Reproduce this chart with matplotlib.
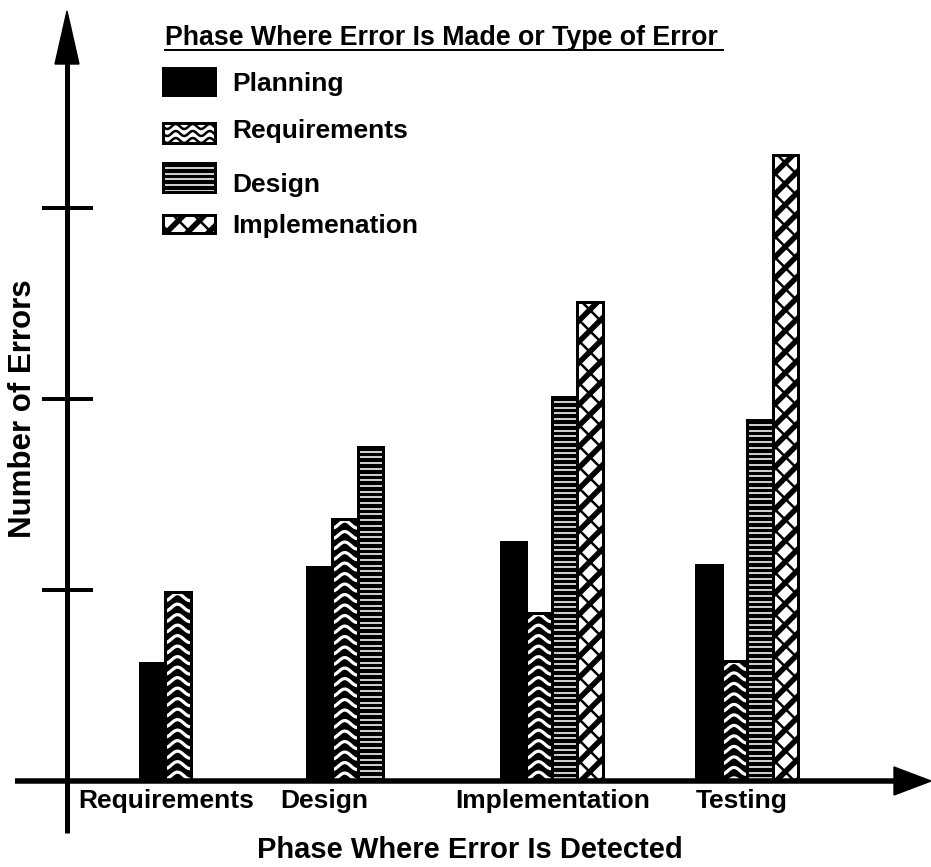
import numpy as np
import matplotlib
matplotlib.use("Agg")
import matplotlib.pyplot as plt
from matplotlib.patches import Rectangle, Polygon
from matplotlib.collections import LineCollection

plt.rcParams['font.family'] = ['Liberation Sans', 'DejaVu Sans']

# ---------------- data ----------------
phases = ['Requirements', 'Design', 'Implementation', 'Testing']
series_names = ['Planning', 'Requirements', 'Design', 'Implemenation']
planning = [0.62, 1.12, 1.25, 1.13]
requirements = [0.99, 1.37, 0.88, 0.63]
design = [None, 1.75, 2.01, 1.89]
implementation = [None, None, 2.51, 3.28]
y_ticks = [1, 2, 3]
legend_title = 'Phase Where Error Is Made or Type of Error'
x_title = 'Phase Where Error Is Detected'
y_title = 'Number of Errors'

# ---------------- layout (pixels) ----------------
W, H = 931, 867
BASE = 781          # pixel row of the zero line
UNIT = 191          # pixels per y unit
AXIS_X = 67
group_centers = [165, 345, 551.5, 747]
label_x = [166.5, 324, 553, 742]
BAR_W = 25.5
PX = 0.72           # points per pixel at dpi 100

fig = plt.figure(figsize=(W / 100, H / 100), dpi=100)
ax = fig.add_axes([0, 0, 1, 1])
ax.set_xlim(0, W)
ax.set_ylim(-(H - BASE) / UNIT, BASE / UNIT)
ax.set_autoscale_on(False)
ov = fig.add_axes([0, 0, 1, 1], zorder=5)
ov.set_xlim(0, W)
ov.set_ylim(H, 0)
ov.axis('off')
ov.patch.set_alpha(0)

for s in ['top', 'right']:
    ax.spines[s].set_visible(False)
ax.spines['left'].set_position(('data', AXIS_X))
ax.spines['left'].set_color('none')
ax.spines['bottom'].set_position(('data', 0))
ax.spines['bottom'].set_color('none')
ax.set_yticks(y_ticks)
ax.tick_params(axis='y', direction='inout', length=51 * PX, width=4 * PX,
               labelleft=False, color='black')
ax.set_xticks(label_x, phases)
ax.tick_params(axis='x', length=0, pad=6, labelsize=19)
for t in ax.get_xticklabels():
    t.set_fontweight('bold')


def to_px(rect):
    x0, y0 = rect.get_x(), rect.get_y()
    x1, y1 = x0 + rect.get_width(), y0 + rect.get_height()
    d = ax.transData.transform([[x0, y0], [x1, y1]])
    p = ov.transData.inverted().transform(d)
    return p[0, 0], p[1, 0], min(p[0, 1], p[1, 1]), max(p[0, 1], p[1, 1])


def add_lines(target_ax, segs, color, lw, clip):
    lc = LineCollection(segs, colors=color, linewidths=lw * PX,
                        transform=ov.transData, zorder=2, capstyle='butt')
    target_ax.add_collection(lc, autolim=False)
    lc.set_clip_path(clip)


def wave(target_ax, box, clip, color, spacing, amp, wl, lw, phase=0):
    x0, x1, yt, yb = box
    segs = []
    xs = np.linspace(x0 - 2, x1 + 2, 60)
    for yc in np.arange(yt + spacing * 0.5, yb + amp + spacing, spacing):
        ys = yc + amp * np.sin(2 * np.pi * (xs - x0) / wl + phase)
        segs.append(np.column_stack([xs, ys]))
    add_lines(target_ax, segs, color, lw, clip)


def hlines(target_ax, box, clip, color, spacing, lw):
    x0, x1, yt, yb = box
    segs = [[(x0 - 2, y), (x1 + 2, y)] for y in np.arange(yt + 5, yb, spacing)]
    add_lines(target_ax, segs, color, lw, clip)


def diag(target_ax, box, clip, period, lw1, lw2):
    x0, x1, yt, yb = box
    w = x1 - x0
    segs1, segs2 = [], []
    for c in np.arange(yt - w - period, yb + w + period, period):
        segs1.append([(x0 - 2, c + w + 2), (x1 + 2, c - 2)])
        segs2.append([(x0 - 2, c - 2), (x1 + 2, c + w + 2)])
    add_lines(target_ax, segs1, 'black', lw1, clip)
    add_lines(target_ax, segs2, 'black', lw2, clip)


styles = {
    'Planning': dict(bg='black'),
    'Requirements': dict(bg='black'),
    'Design': dict(bg='black'),
    'Implemenation': dict(bg='white'),
}


def decorate(name, target_ax, box, clip, legend=False):
    if name == 'Requirements':
        if legend:
            wave(target_ax, box, clip, 'black', 7, 2.5, 17, 2.5)
        else:
            wave(target_ax, box, clip, 'white', 10.5, 3.5, 25, 3.2, phase=np.pi / 2)
    elif name == 'Design':
        hlines(target_ax, box, clip, 'white', 5.7, 1.6)
    elif name == 'Implemenation':
        diag(target_ax, box, clip, 21, 5.5, 2.5)


# ---------------- bars ----------------
all_series = [planning, requirements, design, implementation]
for g, c in enumerate(group_centers):
    present = [(i, s[g]) for i, s in enumerate(all_series) if s[g] is not None]
    n = len(present)
    for k, (i, v) in enumerate(present):
        name = series_names[i]
        x = c + (k - (n - 1) / 2) * BAR_W
        bar = ax.bar(x, v, width=BAR_W, color=styles[name]['bg'],
                     edgecolor='none', zorder=1)[0]
        decorate(name, ax, to_px(bar), bar)
        ax.bar(x, v, width=BAR_W, fill=False, edgecolor='black',
               linewidth=3 * PX, zorder=3)

# ---------------- axes arrows ----------------
ov.plot([AXIS_X, AXIS_X], [833, 45], color='black', lw=5 * PX,
        solid_capstyle='butt')
ov.add_patch(Polygon([(55, 64), (AXIS_X, 11), (79, 64)], closed=True,
                     color='black'))
ov.plot([15, 900], [BASE, BASE], color='black', lw=5.5 * PX,
        solid_capstyle='butt')
ov.add_patch(Polygon([(894, 767), (931, BASE), (894, 795)], closed=True,
                     color='black'))

# ---------------- legend ----------------
ov.text(165, 45, legend_title, fontsize=19.3, fontweight='bold',
        ha='left', va='baseline')
ov.plot([165, 723], [49.5, 49.5], color='black', lw=2 * PX)
leg_boxes = [(163, 215, 68, 95), (163, 215, 123, 143),
             (163, 215, 163, 192), (163, 215, 215, 233)]
leg_base = [91, 138, 192, 233]
for name, (x0, x1, yt, yb), bl in zip(series_names, leg_boxes, leg_base):
    bg = styles[name]['bg']
    if name == 'Requirements':
        bg = 'white'
    r = Rectangle((x0, yt), x1 - x0, yb - yt, facecolor=bg, edgecolor='none',
                  zorder=1)
    ov.add_patch(r)
    decorate(name, ov, (x0, x1, yt, yb), r, legend=True)
    ov.add_patch(Rectangle((x0, yt), x1 - x0, yb - yt, fill=False,
                           edgecolor='black', lw=3 * PX, zorder=3))
    ov.text(232, bl, name, fontsize=19, fontweight='bold', ha='left',
            va='baseline')

# ---------------- titles ----------------
ov.text(470, 858, x_title, fontsize=21, fontweight='bold', ha='center',
        va='baseline')
ov.text(23, 409, y_title, fontsize=22.5, fontweight='bold', ha='center',
        va='center', rotation=90)

fig.savefig('out.png', dpi=100)
